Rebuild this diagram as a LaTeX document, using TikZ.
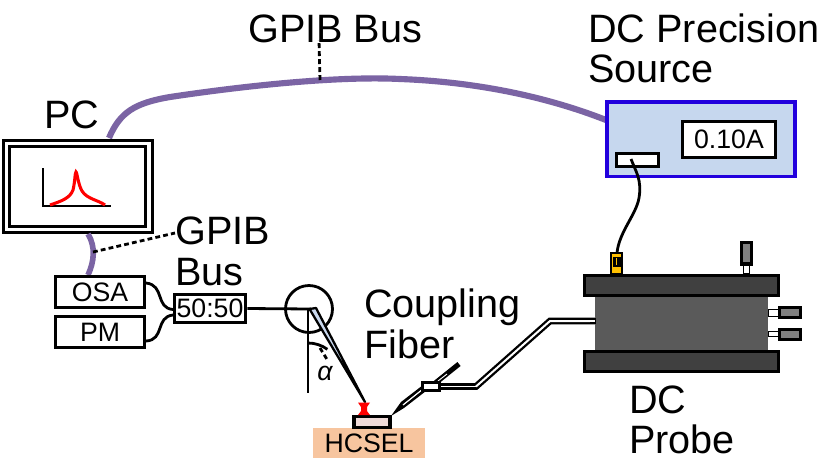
\documentclass[tikz,border=0pt]{standalone}
\usepackage{fontspec}
\setmainfont{Liberation Sans}
\definecolor{busp}{HTML}{7B64A4}
\definecolor{srcb}{HTML}{C6D7EE}
\definecolor{srcl}{HTML}{2200DD}
\definecolor{chcsel}{HTML}{F7C59F}
\definecolor{chip}{HTML}{EFDAD8}
\definecolor{probe}{HTML}{5A5A5A}
\definecolor{jaw}{HTML}{404040}
\definecolor{pin}{HTML}{808080}
\definecolor{amber}{HTML}{FFC000}
\definecolor{fibl}{HTML}{C9D8EE}
\tikzset{
 lab/.style={font=\fontsize{29.7}{30}\selectfont,inner sep=0,anchor=base west},
 small/.style={font=\fontsize{20}{20}\selectfont,inner sep=0},
 box/.style={draw=black,line width=2.4pt,fill=white,inner sep=0},
 bus/.style={draw=busp,line width=4.6pt},
 wire/.style={draw=black,line width=2.1pt},
 dashw/.style={draw=black,line width=2.1pt,dash pattern=on 3.6pt off 2.4pt},
 dualin/.style={draw=white,line width=1.5pt,line join=miter},
 jawb/.style={draw=black,line width=2.7pt,fill=jaw},
 pinb/.style={draw=black,line width=2.6pt,fill=pin},
 stub/.style={draw=black,line width=1.1pt,fill=white},
}
\begin{document}
\begin{tikzpicture}[x=0.75pt,y=-0.75pt]
\useasboundingbox (0,0) rectangle (828,465);
\fill[white] (0,0) rectangle (828,465);
% buses
\coordinate (pcTop) at (109,138);
\coordinate (srcL) at (606,120);
\draw[bus] (pcTop) .. controls (120,112) and (135,103) .. (170,97) .. controls (250,85) and (340,76) .. (400,79) .. controls (480,82) and (550,98) .. (srcL);
\coordinate (busA) at (320,80);
\coordinate (busB) at (319,40);
% PC
\draw[black,line width=2.8pt,fill=white] (3.5,140.5) rectangle (152.5,232.5);
\draw[black,line width=2.8pt] (9.5,146.5) rectangle (145.5,226.5);
\draw[black,line width=2.1pt] (43,168) -- (43,206) -- (111,206);
\draw[red,line width=2.3pt] (50,205) .. controls (62,201) and (70,198) .. (73,190) .. controls (75,182) and (75,172) .. (76,172) .. controls (77,172) and (78,184) .. (82,191) .. controls (87,199) and (98,200) .. (105,205);
\node[lab,font=\fontsize{29.7}{30}\selectfont] (pcL) at (44,128) {PC};
% PC to OSA
\coordinate (pcB) at (88,234);
\coordinate (osaT) at (88,275);
\draw[bus,line width=4.2pt] (pcB) .. controls (96,247) and (94,262) .. (osaT);
\coordinate (d1) at (93,252);
\coordinate (d2) at (175,233);
\draw[dashw] (d1) -- (d2);
\node[lab] (gp) at (175,244) {GPIB};
\node[lab] (bs) at (175,285) {Bus};
% boxes
\node[box,minimum width=67pt,minimum height=23.5pt,small] (osa) at (100,292) {OSA};
\node[box,minimum width=67pt,minimum height=23.5pt,small] (pm) at (100,332) {PM};
\node[box,minimum width=53.5pt,minimum height=21pt,small] (split) at (210,308.5) {50:50};
\draw[wire] (146,283) .. controls (165,285) and (155,308) .. (173,309.5);
\draw[wire] (146,341) .. controls (165,340) and (155,317) .. (173,315);
\coordinate (cen) at (311,309);
\draw[wire] (split.east) -- (cen);
\draw[black,line width=2.1pt] (309,309) circle (23.5);
% fiber holder
\draw[wire] (308,309) -- (308,393);
\draw[black,line width=2.1pt] (308,343) arc (270:306:33);
\draw[dashw] (320,348) -- (328,361);
\node[font=\itshape\fontsize{20}{20}\selectfont,inner sep=0] (al) at (325,373) {α};
\draw[black,line width=1.7pt,fill=fibl,line join=round] (309.5,309) -- (316,308) -- (365,402) -- cycle;
% HCSEL
\fill[chcsel] (313,428) rectangle (425,458);
\node[small] (hc) at (369,443) {HCSEL};
\node[draw=black,line width=2.4pt,fill=chip,minimum width=27pt,minimum height=8pt,inner sep=0] (chipn) at (372,422) {};
\fill[red] (358,402.5) -- (370,402.5) -- (367,407) -- (367,411) -- (370,415) -- (358,415) -- (361,411) -- (361,407) -- cycle;
% coupling
\node[lab] (cp) at (364,317) {Coupling};
\node[lab] (fb) at (364,358) {Fiber};
\coordinate (f1) at (431,386.5);
\coordinate (f2) at (459,364);
\coordinate (f3) at (476,386.5);
\coordinate (f4) at (550,321);
\coordinate (f5) at (596,321);
\draw[black,line width=3.8pt] (f1) -- (f2);
\draw[white,line width=0.7pt] (438,381) -- (447,374);
\fill[black] (391,416) -- (401,402) -- (423,385) -- (426,391) -- (404,408) -- cycle;
\draw[white,line width=0.9pt] (403,405) -- (423,389);
\draw[black,line width=5pt,line join=miter] (f1) -- (f3) -- (f4) -- (f5);
\draw[white,line width=0.8pt,line join=miter] (f1) -- (f3);
\draw[dualin] (f3) -- (f4) -- (f5);
\node[draw=black,line width=2.3pt,fill=white,minimum width=13pt,minimum height=6pt,inner sep=0] (conn) at (431,386.5) {};
% probe
\fill[probe] (595,297) rectangle (768,350);
\draw[black,line width=5pt] (590,321) -- (f5);
\draw[white,line width=1.5pt] (590,321) -- (595,321);
\draw[jawb] (584.5,275.5) rectangle (778.5,295.5);
\draw[jawb] (584.5,351.5) rectangle (778.5,371.5);
\draw[stub] (768.5,309.5) rectangle (779,316.5);
\draw[stub] (768.5,331.5) rectangle (779,336.5);
\draw[pinb] (779.5,307.5) rectangle (800.5,317.5);
\draw[pinb] (779.5,329.5) rectangle (800.5,339.5);
\draw[stub] (743.5,264) rectangle (749.5,274);
\draw[pinb] (741.5,242.5) rectangle (751.5,264);
% amber connector
\draw[black,line width=1.9pt,fill=amber] (611,253) rectangle (622,274);
\fill[black] (612.5,256.5) rectangle (620.5,267);
\draw[amber,line width=0.9pt] (616.5,258) -- (616.5,265);
% source
\draw[draw=srcl,fill=srcb,line width=2.4pt] (607,102) rectangle (795,176.5);
\node[box,minimum width=70pt,minimum height=27pt,small] (disp) at (729,139.5) {0.10A};
\node[box,minimum width=31.5pt,minimum height=10pt] (port) at (637.5,160) {};
\coordinate (pS) at (631,159);
\coordinate (pE) at (617,253);
\draw[black,line width=2.1pt] (pS) .. controls (636,172) and (642,180) .. (639,198) .. controls (636,215) and (619,232) .. (pE);
% labels
\draw[dashw] (busA) -- (busB);
\node[lab] (g1) at (248,42) {GPIB Bus};
\node[lab] (dc1) at (588,42) {DC Precision};
\node[lab] (dc2) at (588,82) {Source};
\node[lab] (dc3) at (629,413) {DC};
\node[lab] (dc4) at (629,453) {Probe};
\end{tikzpicture}
\end{document}
